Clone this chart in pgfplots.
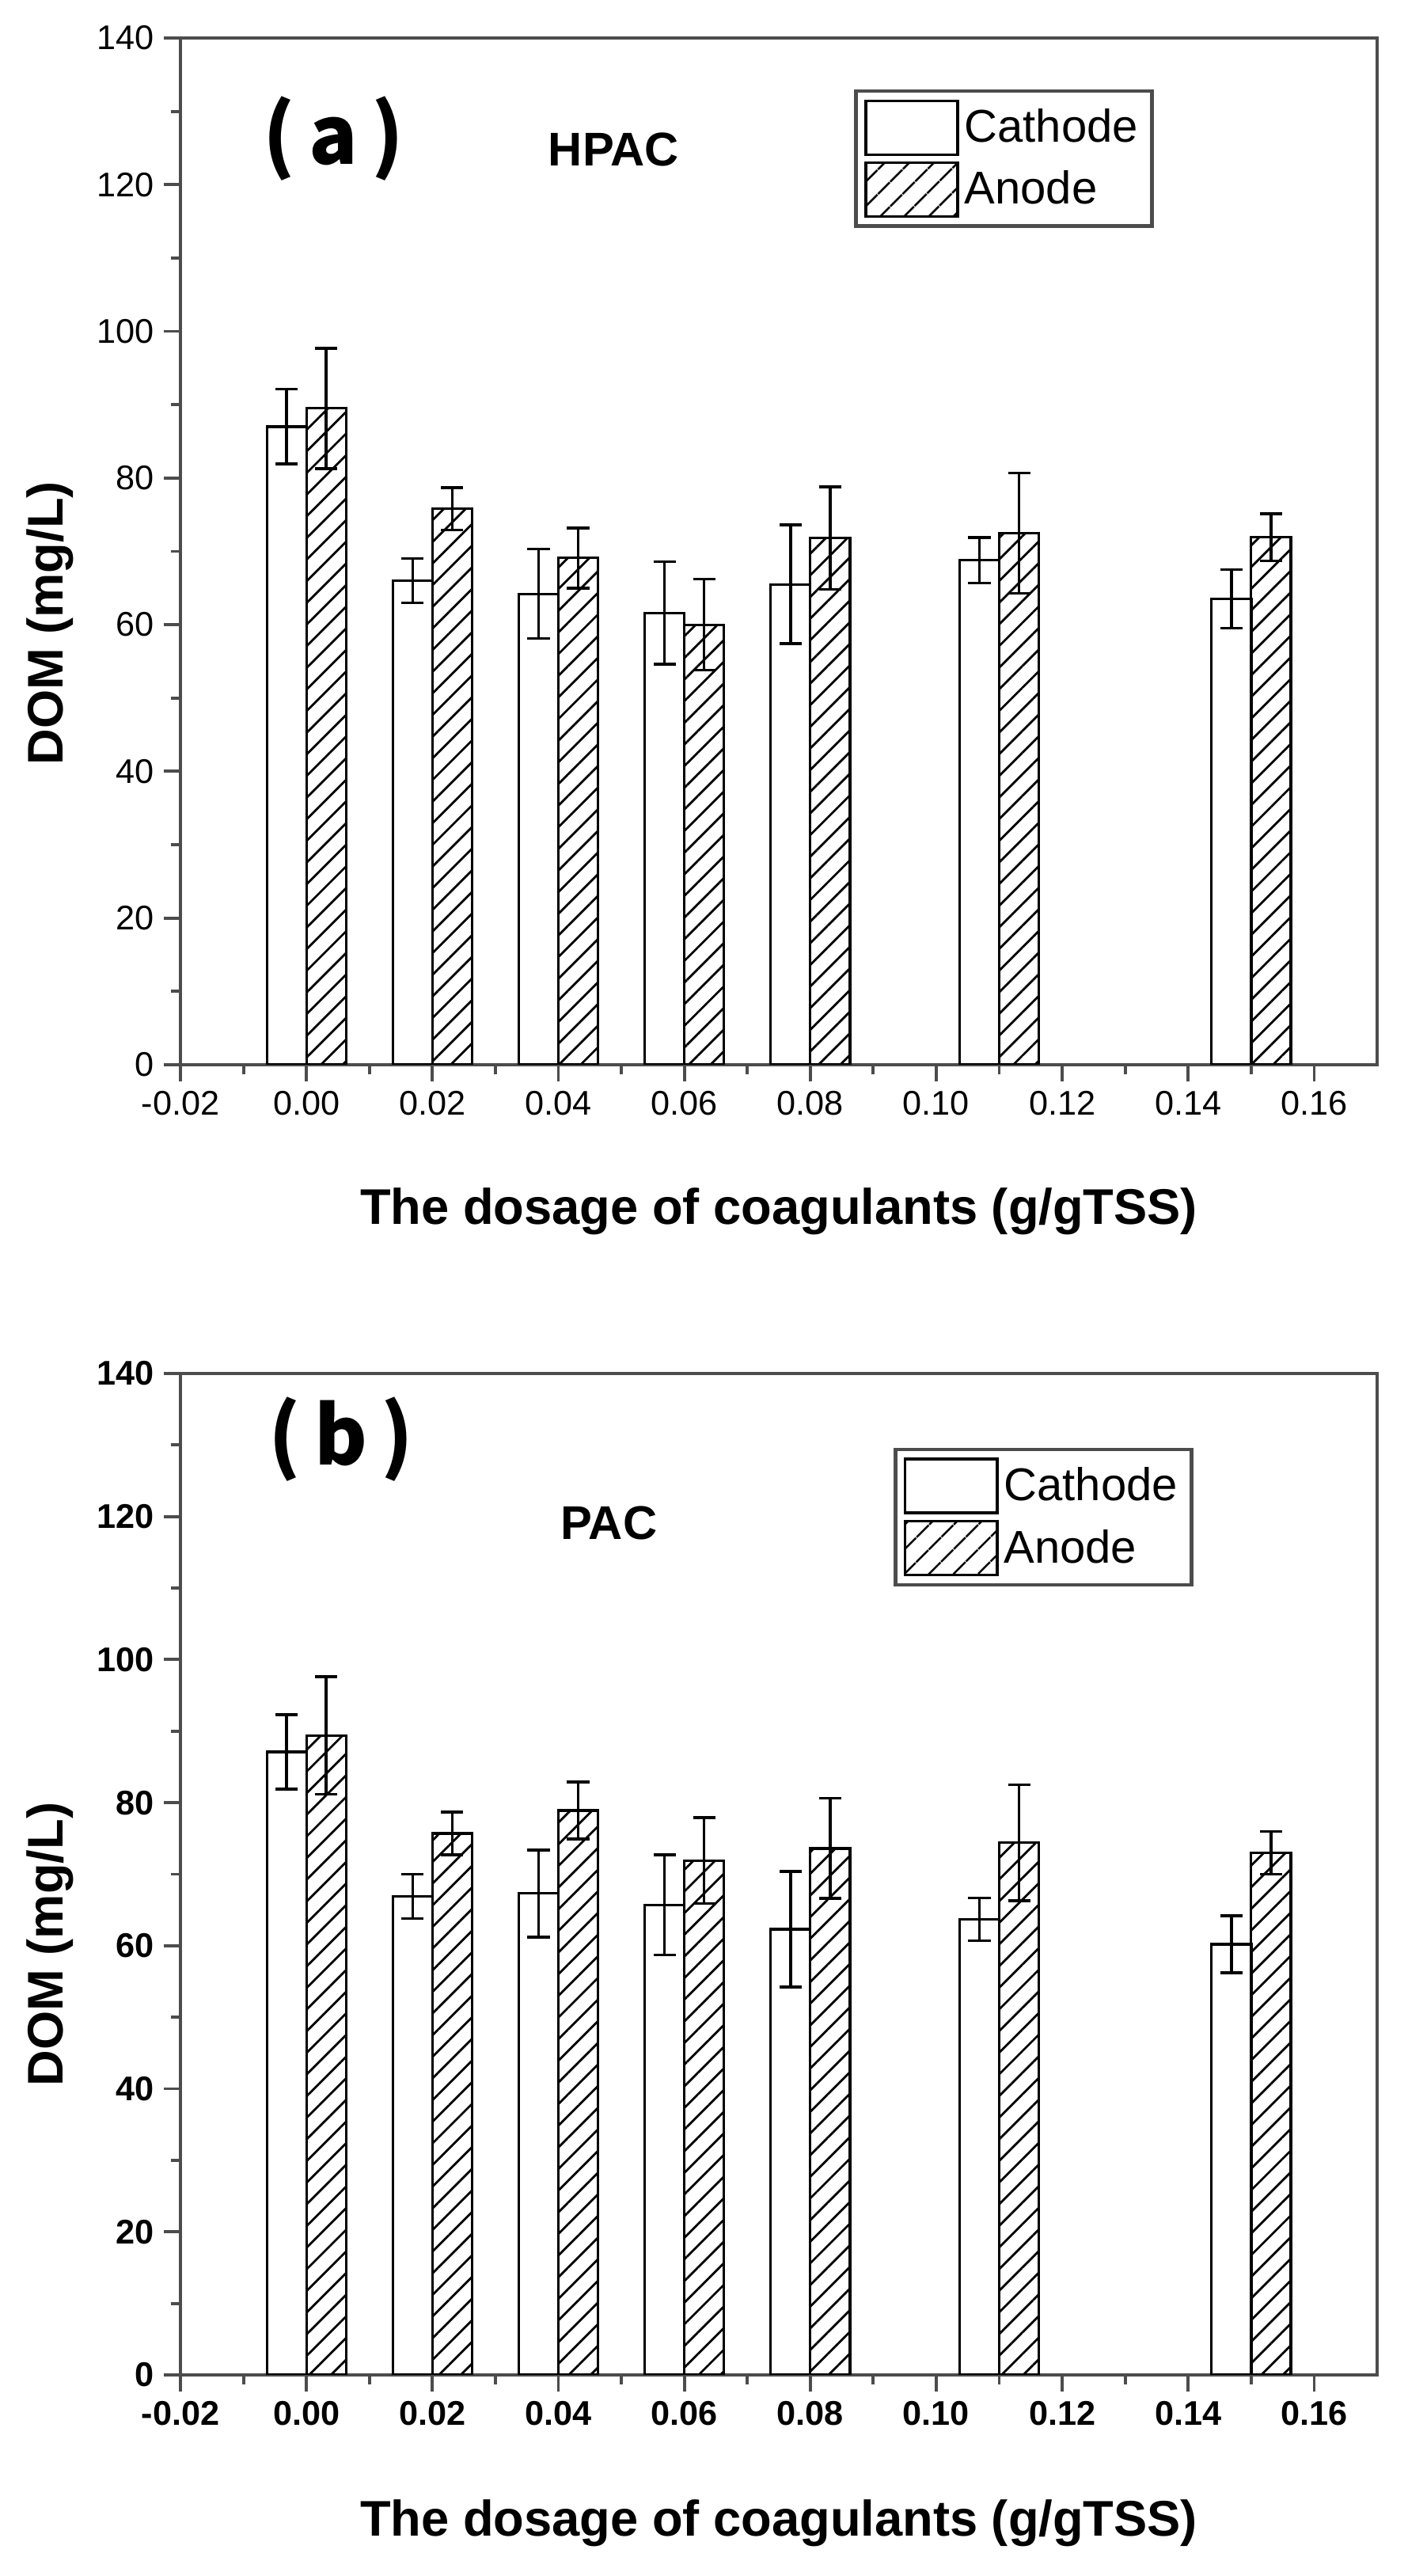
\documentclass[border=0pt]{standalone}
\usepackage{pgfplots}
\pgfplotsset{compat=1.18}
\usepackage{pgfplotstable}
\usetikzlibrary{patterns.meta}
\usepackage{fontspec}
\setmainfont{Liberation Sans}
\newfontfamily\panelfont{Noto Sans CJK SC}

\definecolor{axisgray}{gray}{0.3}

% dosage (g/gTSS), DOM (mg/L) and error for cathode and anode
\pgfplotstableread{
x    cat  cerr an   aerr
0    87.0 5.1  89.5 8.2
0.02 66.0 3.0  75.8 2.9
0.04 64.2 6.1  69.1 4.1
0.06 61.6 7.0  60.0 6.2
0.08 65.5 8.1  71.8 7.0
0.11 68.8 3.1  72.5 8.2
0.15 63.5 4.0  71.9 3.2
}\hpac

\pgfplotstableread{
x    cat  cerr an   aerr
0    87.1 5.2  89.4 8.2
0.02 66.9 3.1  75.7 3.0
0.04 67.3 6.1  78.9 4.0
0.06 65.7 7.0  71.9 6.0
0.08 62.3 8.1  73.6 7.0
0.11 63.7 3.0  74.4 8.1
0.15 60.2 4.0  73.0 3.0
}\pac

\pgfplotsset{
  domstyle/.style={
    scale only axis, width=15.12cm,
    ybar, bar width=0.0063,
    xmin=-0.02, xmax=0.17, ymin=0, ymax=140,
    xtick={-0.02,0,0.02,0.04,0.06,0.08,0.10,0.12,0.14,0.16},
    ytick={0,20,40,60,80,100,120,140},
    minor x tick num=1, minor y tick num=1,
    scaled x ticks=false,
    tick pos=left, tick align=outside,
    major tick length=6pt, minor tick length=3.5pt,
    every tick/.style={line width=1.1pt, color=axisgray},
    axis line style={line width=1.2pt, color=axisgray},
    x tick label style={/pgf/number format/.cd, fixed, fixed zerofill, precision=2, /tikz/.cd},
    /pgf/number format/assume math mode=true,
    xlabel={The dosage of coagulants (g/gTSS)},
    ylabel={DOM (mg/L)},
    xlabel style={font=\bfseries\fontsize{18}{20}\selectfont, anchor=center},
    ylabel style={font=\bfseries\fontsize{18}{20}\selectfont, anchor=center,
      at={(axis description cs:-0.109,0.43)}},
    legend style={anchor=north west, draw=axisgray, line width=1.3pt,
      font=\fontsize{16.5}{18}\selectfont, row sep=2pt, inner sep=3pt,
      cells={anchor=west}},
  },
  cathode/.style={draw=black, fill=white, line width=0.9pt, bar shift=-0.00315,
    legend image code/.code={\draw[draw=black, fill=white, line width=1pt] (0cm,-0.34cm) rectangle (1.16cm,0.34cm);},
    error bars/.cd, y dir=both, y explicit,
    error bar style={line width=1pt, black},
    error mark options={rotate=90, mark size=4pt, line width=1pt, black}},
  anode/.style={draw=black, line width=0.9pt, bar shift=0.00315,
    pattern={Lines[angle=45,distance=5.5pt,line width=0.8pt]},
    legend image code/.code={\draw[draw=black, line width=1pt, pattern={Lines[angle=45,distance=6.5pt,line width=0.8pt]}] (0cm,-0.34cm) rectangle (1.16cm,0.34cm);},
    error bars/.cd, y dir=both, y explicit,
    error bar style={line width=1pt, black},
    error mark options={rotate=90, mark size=4pt, line width=1pt, black}},
}

\begin{document}
\begin{tikzpicture}
\useasboundingbox (0,0) rectangle (17.78,32.54);

\begin{axis}[domstyle, at={(2.28cm,19.09cm)}, anchor=south west, height=12.97cm,
    ticklabel style={font=\fontsize{12.3}{14}\selectfont},
    xlabel style={at={(axis description cs:0.5,-0.143)}},
    legend style={at={(0.563,0.95)}}]
  \addplot[cathode] table[x=x, y=cat, y error=cerr] {\hpac};
  \addlegendentry{Cathode}
  \addplot[anode] table[x=x, y=an, y error=aerr] {\hpac};
  \addlegendentry{Anode}
  \node[font=\panelfont\bfseries\fontsize{29}{29}\selectfont] at (rel axis cs:0.128,0.902) {(\,a\,)};
  \node[font=\bfseries\fontsize{17}{19}\selectfont] at (rel axis cs:0.362,0.891) {HPAC};
\end{axis}

\begin{axis}[domstyle, at={(2.28cm,2.54cm)}, anchor=south west, height=12.65cm,
    ticklabel style={font=\bfseries\fontsize{12.3}{14}\selectfont},
    xlabel style={at={(axis description cs:0.5,-0.148)}},
    legend style={at={(0.596,0.926)}}]
  \addplot[cathode] table[x=x, y=cat, y error=cerr] {\pac};
  \addlegendentry{Cathode}
  \addplot[anode] table[x=x, y=an, y error=aerr] {\pac};
  \addlegendentry{Anode}
  \node[font=\panelfont\bfseries\fontsize{29}{29}\selectfont] at (rel axis cs:0.134,0.934) {(\,b\,)};
  \node[font=\bfseries\fontsize{17}{19}\selectfont] at (rel axis cs:0.358,0.851) {PAC};
\end{axis}
\end{tikzpicture}
\end{document}
